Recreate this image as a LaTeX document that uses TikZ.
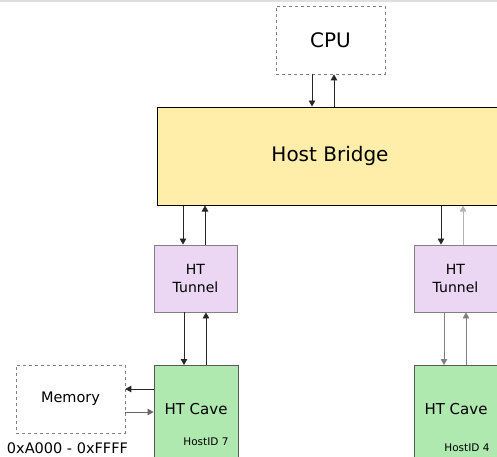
\documentclass[tikz,border=0pt]{standalone}
\usepackage{fontspec}
\setmainfont{DejaVu Sans}
\usetikzlibrary{arrows.meta, positioning, calc}

\definecolor{bridgefill}{HTML}{FFEEAA}
\definecolor{tunnelfill}{HTML}{EBD7F3}
\definecolor{cavefill}{HTML}{AFE9AF}

\begin{document}
\begin{tikzpicture}[x=1pt, y=-1pt,
    flow/.style={-{Triangle[width=6.5pt,length=6pt]}, line width=0.8pt, black!85},
    extbox/.style={draw=gray, dashed, line width=0.7pt, fill=white},
    bridgebox/.style={draw=black, line width=1pt, fill=bridgefill, font=\fontsize{20}{24}\selectfont},
    tunnelbox/.style={draw=gray, line width=0.9pt, fill=tunnelfill, align=center, font=\fontsize{14}{18}\selectfont,
        minimum height=67pt},
    cavebox/.style={draw=gray!70!black, line width=0.9pt, fill=cavefill, font=\fontsize{15}{18}\selectfont,
        minimum height=110pt, text depth=24pt, anchor=north},
    idtext/.style={anchor=east, font=\fontsize{10.5}{12}\selectfont}]
        \clip (0,0) rectangle (497,456);
        \fill [white] (0,0) rectangle (497,456);
        \draw [gray!25, line width=3pt] (0,0) -- (497,0);

        % Draw the blocks
        \node (cpu)    [extbox, minimum width=109pt, minimum height=68pt, font=\fontsize{20}{24}\selectfont] at (330.5,40) {CPU};
        \node (host)   [bridgebox, minimum width=346pt, minimum height=98pt] at (330,156) {Host Bridge};
        \node (tunL)   [tunnelbox, minimum width=83pt] at (195.5,278.5) {HT\\Tunnel};
        \node (tunR)   [tunnelbox, minimum width=83pt] at (455.5,278.5) {HT\\Tunnel};
        \node (caveL)  [cavebox, minimum width=84pt] at (196,365) {HT Cave};
        \node (caveR)  [cavebox, minimum width=84pt] at (456,365) {HT Cave};
        \node (idL)    [idtext] at (232,442) {HostID 7};
        \node (idR)    [idtext] at (493,448) {HostID 4};
        \node (mem)    [extbox, minimum width=109pt, minimum height=68pt, font=\fontsize{14.5}{17}\selectfont] at (70.5,399) {Memory};
        \node (range)  [font=\fontsize{14.5}{17}\selectfont] at (67.5,448) {0xA000 - 0xFFFF};

        % Offsets of the link pairs
        \coordinate (cpuDn) at ($(cpu.south)+(-18.5,0)$);
        \coordinate (cpuUp) at ($(cpu.south)+(3.5,0)$);
        \coordinate (tLDn)  at ($(tunL.north)+(-12.5,0)$);
        \coordinate (tLUp)  at ($(tunL.north)+(9.5,0)$);
        \coordinate (tRDn)  at ($(tunR.north)+(-14.5,0)$);
        \coordinate (tRUp)  at ($(tunR.north)+(7.5,0)$);
        \coordinate (cLDn)  at ($(caveL.north)+(-12,0)$);
        \coordinate (cLUp)  at ($(caveL.north)+(10,0)$);
        \coordinate (cRDn)  at ($(caveR.north)+(-12,0)$);
        \coordinate (cRUp)  at ($(caveR.north)+(10,0)$);
        \coordinate (mOut)  at ($(mem.east)+(0,-10)$);
        \coordinate (mIn)   at ($(mem.east)+(0,13)$);

        % Draw the connecting lines
        \draw [flow] (cpuDn) -- (cpuDn |- host.north);
        \draw [flow] (cpuUp |- host.north) -- (cpuUp);
        \draw [flow] (tLDn |- host.south) -- (tLDn);
        \draw [flow] (tLUp) -- (tLUp |- host.south);
        \draw [flow] (tRDn |- host.south) -- (tRDn);
        \draw [flow, draw=gray!60, fill=black] (tRUp) -- (tRUp |- host.south);
        \draw [flow] (cLDn |- tunL.south) -- (cLDn);
        \draw [flow] (cLUp) -- (cLUp |- tunL.south);
        \draw [flow, draw=gray] (cRDn |- tunR.south) -- (cRDn);
        \draw [flow, draw=gray] (cRUp) -- (cRUp |- tunR.south);
        \draw [flow] (mOut -| caveL.west) -- (mOut);
        \draw [flow, draw=gray!80!black] (mIn) -- (mIn -| caveL.west);
\end{tikzpicture}
\end{document}
